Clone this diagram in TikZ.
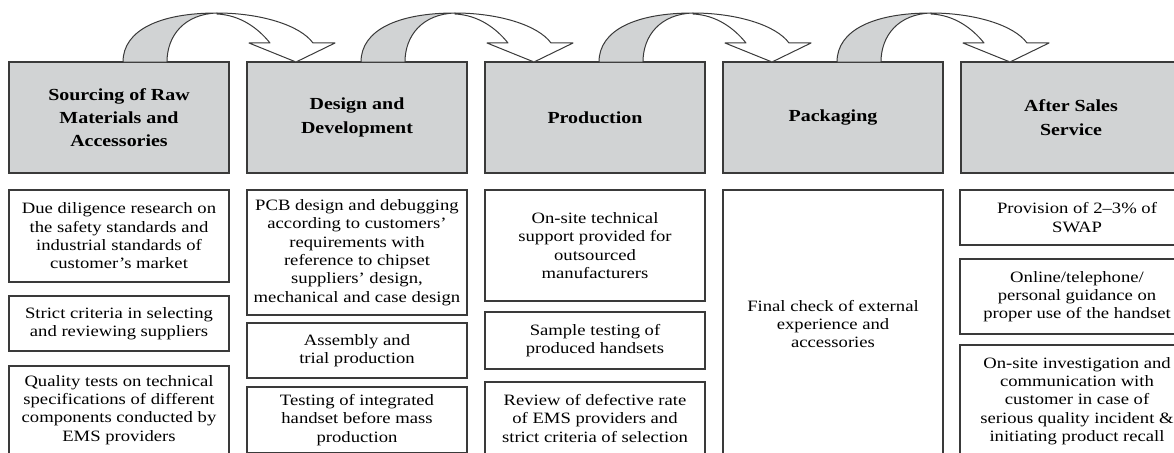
\documentclass[tikz,border=0pt]{standalone}
\usepackage{fontspec}
\setmainfont{Liberation Serif}[FakeStretch=1.18]
\usepackage{tikz}
\definecolor{boxgray}{HTML}{D1D3D4}
\definecolor{boxline}{HTML}{3A3A3A}

\begin{document}
\begin{tikzpicture}[x=1pt,y=-1pt,
  stage/.style={draw=boxline,line width=1.2pt,fill=boxgray,minimum width=220pt,minimum height=111pt,inner sep=0pt,outer sep=0pt,align=center,font=\fontsize{16.9}{23.3}\selectfont\bfseries},
  item/.style={draw=boxline,line width=1.2pt,minimum width=220pt,inner sep=0pt,outer sep=0pt,anchor=north,align=center,font=\fontsize{15.8}{18.3}\selectfont}]
\useasboundingbox (0,0) rectangle (1174,452);
\clip (0,0) rectangle (1174,452);

\node[stage] (src) at (119,117.5) {Sourcing of Raw\\Materials and\\Accessories};
\node[stage] (dsn) at (357,117.5) {Design and\\Development};
\node[stage] (prd) at (595,117.5) {Production};
\node[stage] (pkg) at (833,117.5) {Packaging};
\node[stage] (aft) at (1071,117.5) {After Sales\\Service};

\node[item,minimum height=92pt] (src1) at (119,190) {Due diligence research on\\the safety standards and\\industrial standards of\\customer's market};
\node[item,minimum height=55pt] (src2) at (119,296) {Strict criteria in selecting\\and reviewing suppliers};
\node[item,minimum height=88pt] (src3) at (119,366) {Quality tests on technical\\specifications of different\\components conducted by\\EMS providers};

\node[item,minimum height=125pt] (dsn1) at (357,190) {PCB design and debugging\\according to customers'\\requirements with\\reference to chipset\\suppliers' design,\\mechanical and case design};
\node[item,minimum height=55pt] (dsn2) at (357,323) {Assembly and\\trial production};
\node[item,minimum height=66pt] (dsn3) at (357,387) {Testing of integrated\\handset before mass\\production};

\node[item,minimum height=111pt] (prd1) at (595,190) {On-site technical\\support provided for\\outsourced\\manufacturers};
\node[item,minimum height=57pt] (prd2) at (595,312) {Sample testing of\\produced handsets};
\node[item,minimum height=73pt] (prd3) at (595,382) {Review of defective rate\\of EMS providers and\\strict criteria of selection};

\node[item,minimum height=268pt] (pkg1) at (833,190) {Final check of external\\experience and\\accessories};

\node[item,minimum width=234pt,minimum height=55pt] (aft1) at (1077,190) {Provision of 2--3\% of\\SWAP};
\node[item,minimum width=234pt,minimum height=75pt] (aft2) at (1077,259) {Online/telephone/\\personal guidance on\\proper use of the handset};
\node[item,minimum width=234pt,minimum height=112pt] (aft3) at (1077,345) {On-site investigation and\\communication with\\customer in case of\\serious quality incident \&\\initiating product recall};

\foreach \a in {src,dsn,prd,pkg}{
  \begin{scope}[shift={(\a.north west)}]
  \filldraw[fill=boxgray,draw=boxline,line width=1pt] (114,0) .. controls (114,-32) and (151,-49) .. (208,-49) .. controls (176,-48) and (158,-27) .. (158,0) -- cycle;
  \filldraw[fill=white,draw=boxline,line width=1pt,line join=round] (208,-49) .. controls (251,-49) and (291,-37) .. (304,-19) -- (326,-19) -- (287,0) -- (240,-19) -- (261,-19) .. controls (249,-34) and (231,-47) .. (208,-48) -- cycle;
  \end{scope}
}
\end{tikzpicture}
\end{document}
